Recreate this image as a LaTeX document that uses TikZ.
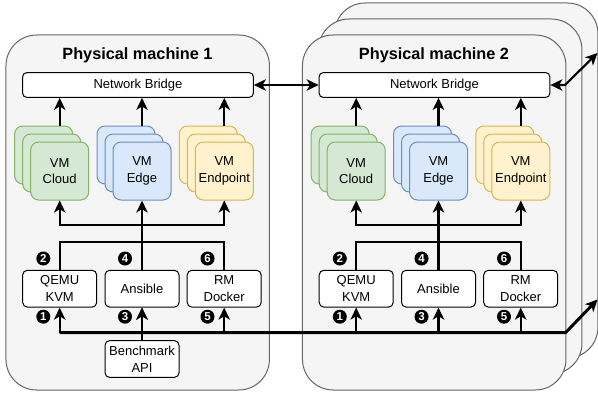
\documentclass[tikz,border=0pt]{standalone}
\usepackage{fontspec}
\setmainfont{Liberation Sans}
\usetikzlibrary{arrows.meta}
\definecolor{mfill}{HTML}{F5F5F5}
\definecolor{mline}{HTML}{666666}
\definecolor{gfill}{HTML}{D5E8D4}
\definecolor{gline}{HTML}{82B366}
\definecolor{bfill}{HTML}{DAE8FC}
\definecolor{bline}{HTML}{6C8EBF}
\definecolor{yfill}{HTML}{FFF2CC}
\definecolor{yline}{HTML}{D6B656}
\begin{document}
\begin{tikzpicture}[x=0.75pt,y=-0.75pt,
  machine/.style={draw=mline, fill=mfill, line width=0.75pt, rounded corners=23pt,
    minimum width=197.6pt, minimum height=266.25pt, inner sep=0pt},
  bridgebox/.style={draw=black, fill=white, line width=0.75pt, rounded corners=3pt,
    minimum width=173pt, minimum height=18.5pt, inner sep=0pt,
    font=\fontsize{9.75}{12}\selectfont},
  card/.style={line width=0.75pt, rounded corners=6pt, minimum width=43.5pt,
    minimum height=43.5pt, inner sep=0pt, align=center,
    font=\fontsize{9.75}{12.5}\selectfont},
  gcard/.style={card, draw=gline, fill=gfill},
  bcard/.style={card, draw=bline, fill=bfill},
  ycard/.style={card, draw=yline, fill=yfill},
  toolbox/.style={draw=black, fill=white, line width=0.75pt, rounded corners=3.5pt,
    minimum width=55.5pt, minimum height=27.6pt, inner sep=0pt, align=center,
    font=\fontsize{9.75}{12.5}\selectfont},
  titletext/.style={font=\fontsize{12.2}{14}\selectfont\bfseries, inner sep=0pt},
  numdot/.style={circle, fill=black, text=white, minimum size=10.5pt, inner sep=0pt,
    font=\fontsize{8.6}{9}\selectfont\bfseries},
  conn/.style={line width=1.6pt, draw=black},
  arr/.style={conn, -{Stealth[length=9pt, width=8.5pt, inset=2.5pt]}},
  darr/.style={conn, {Stealth[length=9pt, width=8.5pt, inset=2.5pt]}-{Stealth[length=9pt, width=8.5pt, inset=2.5pt]}},
]
\useasboundingbox (0,0) rectangle (598,392);

% machine containers
\node[machine] (m1) at (137.7,212.5) {};
\node[machine] (m2c) at (466.2,180.5) {};
\node[machine] (m2b) at (450.2,196.5) {};
\node[machine] (m2) at (434.2,212.5) {};

\foreach \i/\dx in {1/0,2/296.5}{
  \node[titletext] (t\i) at ({137.5+\dx},55) {Physical machine \i};
  \node[bridgebox] (br\i) at ({138+\dx},85) {Network Bridge};
  % VM stacks
  \node[gcard] (ga\i) at ({43.7+\dx},155) {};
  \node[gcard] (gb\i) at ({51.7+\dx},163) {};
  \node[gcard] (gc\i) at ({59.7+\dx},171) {VM\\Cloud};
  \node[bcard] (ba\i) at ({126+\dx},155) {};
  \node[bcard] (bb\i) at ({134+\dx},163) {};
  \node[bcard] (bc\i) at ({142+\dx},171) {VM\\Edge};
  \node[ycard] (ya\i) at ({208.3+\dx},155) {};
  \node[ycard] (yb\i) at ({216.3+\dx},163) {};
  \node[ycard] (yc\i) at ({224.3+\dx},171) {VM\\Endpoint};
  % tools
  \node[toolbox] (qe\i) at ({59.7+\dx},288.7) {QEMU\\KVM};
  \node[toolbox] (an\i) at ({142+\dx},288.7) {Ansible};
  \node[toolbox] (rm\i) at ({224.2+\dx},288.7) {RM\\Docker};
  % numbers
  \node[numdot] (n1\i) at ({43.3+\dx},316.7) {1};
  \node[numdot] (n2\i) at ({43.3+\dx},258.5) {2};
  \node[numdot] (n3\i) at ({125+\dx},316.7) {3};
  \node[numdot] (n4\i) at ({125+\dx},258.5) {4};
  \node[numdot] (n5\i) at ({207.5+\dx},316.7) {5};
  \node[numdot] (n6\i) at ({207.5+\dx},258.5) {6};
  % VM -> bridge
  \draw[arr] (gc\i.center |- ga\i.north) -- (gc\i.center |- br\i.south);
  \draw[arr] (bc\i.center |- ba\i.north) -- (bc\i.center |- br\i.south);
  \draw[arr] (yc\i.center |- ya\i.north) -- (yc\i.center |- br\i.south);
  % Ansible -> VMs
  \coordinate (j\i) at ({142+\dx},225);
  \draw[arr] (an\i.north) -- (bc\i.south);
  \draw[arr] (j\i) -| (gc\i.south);
  \draw[arr] (j\i) -| (yc\i.south);
  % QEMU - RM link
  \draw[conn] (qe\i.north) -- (qe\i.north |- 0,241.7) -- (rm\i.north |- 0,241.7) -- (rm\i.north);
  % bottom bus -> tools
  \draw[arr] (qe\i.south |- 0,332.7) -- (qe\i.south);
  \draw[arr] (an\i.south |- 0,332.7) -- (an\i.south);
  \draw[arr] (rm\i.south |- 0,332.7) -- (rm\i.south);
}

\node[toolbox] (bm) at (142,359) {Benchmark\\API};
\draw[arr] (bm.north) -- (an1.south);

% bottom bus across machines
\coordinate (busbend) at (565.5,332.7);
\coordinate (busend) at (597.5,299.5);
\draw[line width=2.2pt, -{Stealth[length=9pt, width=8.5pt, inset=2.5pt]}]
  (qe1.south |- 0,332.7) -- (busbend) -- (busend);

% bridge links
\draw[darr] (br1.east) -- (br2.west);
\coordinate (brbend) at (565,85);
\coordinate (brend) at (597.5,53);
\draw[darr] (br2.east) -- (brbend) -- (brend);
\end{tikzpicture}
\end{document}
